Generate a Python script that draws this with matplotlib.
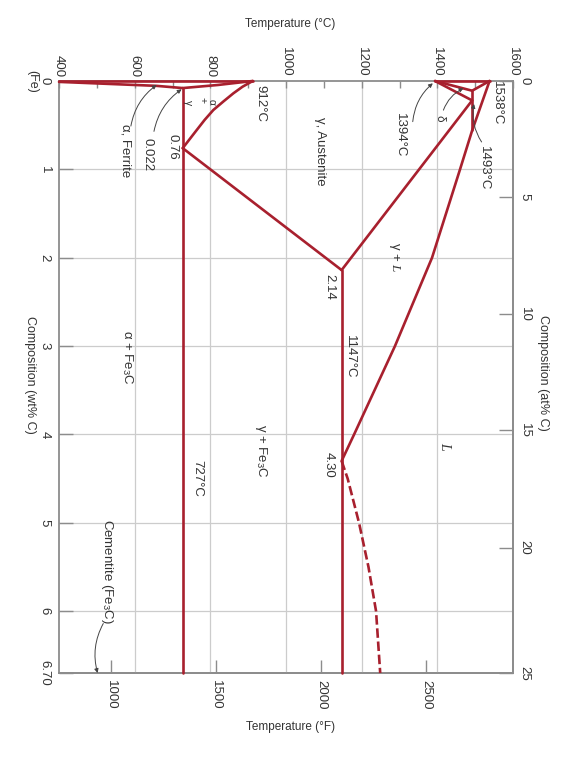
import matplotlib
matplotlib.use('Agg')
import matplotlib.pyplot as plt

# ---------------- data (°C, wt% C) ----------------
temp_ticks_c = [400, 600, 800, 1000, 1200, 1400, 1600]
temp_minor_c = [500, 700, 900, 1100, 1300, 1500]
comp_ticks = [0, 1, 2, 3, 4, 5, 6, 6.70]
comp_labels = ['0', '1', '2', '3', '4', '5', '6', '6.70']
at_tick_pos = [0, 1.31, 2.64, 3.95, 5.28, 6.70]
at_labels = ['0', '5', '10', '15', '20', '25']
temp_ticks_f = [1000, 1500, 2000, 2500]

alpha_solvus_T = [400, 658, 727]
alpha_solvus_C = [0.01, 0.055, 0.08]
alpha_gamma_T = [727, 820, 912]
alpha_gamma_C = [0.08, 0.045, 0.0]
a3_T = [912, 885, 861, 835, 808, 785, 764, 745, 727]
a3_C = [0.0, 0.065, 0.139, 0.23, 0.328, 0.44, 0.555, 0.66, 0.76]
acm_T = [727, 940, 1147]
acm_C = [0.76, 1.46, 2.14]
eutectoid_T = [727, 727]
eutectoid_C = [0.08, 6.70]
eutectic_T = [1147, 1147]
eutectic_C = [2.14, 6.70]
solidus_T = [1147, 1492]
solidus_C = [2.14, 0.22]
liquidus_T = [1538, 1492, 1460, 1386, 1288, 1180, 1147]
liquidus_C = [0.0, 0.56, 1.0, 2.0, 3.0, 4.0, 4.30]
peritectic_T = [1492, 1492]
peritectic_C = [0.11, 0.56]
delta_solidus_T = [1538, 1492]
delta_solidus_C = [0.0, 0.11]
delta_solvus_T = [1394, 1492]
delta_solvus_C = [0.0, 0.11]
gamma_delta_T = [1394, 1492]
gamma_delta_C = [0.0, 0.22]
fe_alpha_T = [400, 912]
fe_alpha_C = [0.0, 0.0]
fe_delta_T = [1394, 1538]
fe_delta_C = [0.0, 0.0]
cem_liq_T = [1147, 1163, 1193, 1218, 1238, 1249]
cem_liq_C = [4.30, 4.5, 5.0, 5.5, 6.0, 6.70]

# ---------------- style ----------------
plt.rcParams['font.family'] = ['Liberation Sans', 'DejaVu Sans']
plt.rcParams['mathtext.fontset'] = 'custom'
plt.rcParams['mathtext.rm'] = 'Liberation Sans'
plt.rcParams['mathtext.it'] = 'Liberation Serif:italic'
RED = '#a8202e'
GRAY = '#8c8c8c'
GRID = '#cccccc'
TXT = '#333333'
LW = 1.9

W, H = 563, 774
fig = plt.figure(figsize=(W / 100, H / 100), dpi=100)
ax = fig.add_axes([59 / W, 1 - 673 / H, 454 / W, 592 / H])
ax.set_xlim(400, 1600)
ax.set_ylim(6.70, 0)

for s in ax.spines.values():
    s.set_color(GRAY)
    s.set_linewidth(1.3)

# grid
for t in [600, 800, 1000, 1200, 1400]:
    ax.axvline(t, color=GRID, lw=0.9, zorder=1)
for c in [1, 2, 3, 4, 5, 6]:
    ax.axhline(c, color=GRID, lw=0.9, zorder=1)

# top temperature axis (°C)
ax.xaxis.tick_top()
ax.set_xticks(temp_ticks_c)
ax.set_xticklabels([str(t) for t in temp_ticks_c], rotation=-90)
ax.set_xticks(temp_minor_c, minor=True)
ax.tick_params(axis='x', which='both', direction='in', length=5, width=1,
               color=GRAY, labelsize=9.5, labelcolor=TXT, pad=3)

# left composition axis (wt%)
ax.set_yticks(comp_ticks)
ax.set_yticklabels(comp_labels, rotation=-90, va='center')
ax.tick_params(axis='y', direction='in', length=10, width=1, color=GRAY,
               labelsize=9.5, labelcolor=TXT, pad=6)

# right axis at%
ax2 = ax.twinx()
ax2.set_ylim(6.70, 0)
ax2.set_yticks(at_tick_pos)
ax2.set_yticklabels(at_labels, rotation=-90, va='center')
ax2.tick_params(axis='y', direction='in', length=10, width=1, color=GRAY,
                labelsize=9.5, labelcolor=TXT, pad=4)
for k, s in ax2.spines.items():
    s.set_visible(k == 'right')
    s.set_color(GRAY)
    s.set_linewidth(1.3)

# bottom °F axis
secx = ax.secondary_xaxis('bottom', functions=(lambda c: c * 9 / 5 + 32,
                                               lambda f: (f - 32) * 5 / 9))
secx.set_xticks(temp_ticks_f)
secx.set_xticklabels([str(t) for t in temp_ticks_f], rotation=-90)
secx.tick_params(direction='in', length=9.5, width=1, color=GRAY,
                 labelsize=9.5, labelcolor=TXT, pad=5)
secx.spines['bottom'].set_color(GRAY)
secx.spines['bottom'].set_linewidth(1.3)

# phase boundaries
def red(T, C):
    ax.plot(T, C, color=RED, lw=LW, zorder=5, clip_on=False,
            solid_joinstyle='round', solid_capstyle='round')

for T, C in [(alpha_solvus_T, alpha_solvus_C), (alpha_gamma_T, alpha_gamma_C),
             (a3_T, a3_C), (acm_T, acm_C), (eutectoid_T, eutectoid_C),
             (eutectic_T, eutectic_C), (solidus_T, solidus_C),
             (liquidus_T, liquidus_C), (peritectic_T, peritectic_C),
             (delta_solidus_T, delta_solidus_C), (delta_solvus_T, delta_solvus_C),
             (gamma_delta_T, gamma_delta_C), (fe_alpha_T, fe_alpha_C),
             (fe_delta_T, fe_delta_C)]:
    red(T, C)
ln, = ax.plot(cem_liq_T, cem_liq_C, color=RED, lw=LW, zorder=5, clip_on=False)
ln.set_dashes([3.6, 1.4])

# labels
def lab(T, C, s, size=9.5, **kw):
    ax.text(T, C, s, rotation=-90, ha='center', va='center', fontsize=size,
            color=TXT, zorder=6, **kw)

lab(933, 0.255, '912°C')
lab(804, 0.234, 'α', size=7.5)
lab(780, 0.215, '+', size=7.5)
lab(742, 0.24, 'γ', size=7.5)
lab(701, 0.74, '0.76')
lab(633, 0.83, '0.022')
lab(577, 0.79, 'α, Ferrite')
lab(1090, 0.80, 'γ, Austenite')
lab(1301, 0.61, '1394°C')
lab(1405, 0.42, 'δ', size=8.5)
lab(1558, 0.25, '1538°C')
lab(1522, 0.99, '1493°C')
lab(1288, 1.99, 'γ + $L$')
lab(1114, 2.33, '2.14')
lab(1170, 3.12, '1147°C')
lab(1420, 4.14, '$L$', size=10)
lab(1114, 4.35, '4.30')
lab(581, 3.13, 'α + Fe$_3$C')
lab(934, 4.19, 'γ + Fe$_3$C')
lab(766, 4.50, '727°C')
lab(528, 5.55, 'Cementite (Fe$_3$C)')

def arrow(T0, C0, T1, C1, rad):
    ax.annotate('', xy=(T1, C1), xytext=(T0, C0),
                arrowprops=dict(arrowstyle='-|>', color='#444444', lw=0.7,
                                mutation_scale=6, shrinkA=0, shrinkB=0,
                                connectionstyle=f'arc3,rad={rad}'),
                zorder=6, annotation_clip=False)

arrow(590, 0.51, 658, 0.045, -0.2)
arrow(651, 0.57, 724, 0.094, -0.2)
arrow(1335, 0.46, 1388, 0.026, -0.2)
arrow(1416, 0.33, 1469, 0.083, -0.2)
arrow(1517, 0.69, 1497, 0.26, -0.2)
arrow(517, 6.14, 502, 6.70, 0.2)

# axis titles
def px(x, y):
    return x / W, 1 - y / H

fig.text(*px(290, 24), 'Temperature (°C)', ha='center', va='center',
         fontsize=8.5, color=TXT)
fig.text(*px(291, 727), 'Temperature (°F)', ha='center', va='center',
         fontsize=8.5, color=TXT)
fig.text(*px(30, 375), 'Composition (wt% C)', rotation=-90, ha='center',
         va='center', fontsize=9, color=TXT)
fig.text(*px(543, 373), 'Composition (at% C)', rotation=-90, ha='center',
         va='center', fontsize=9, color=TXT)
fig.text(*px(32, 81), '(Fe)', rotation=-90, ha='center', va='center',
         fontsize=9, color=TXT)

fig.savefig('out.png', dpi=100, facecolor='white')
